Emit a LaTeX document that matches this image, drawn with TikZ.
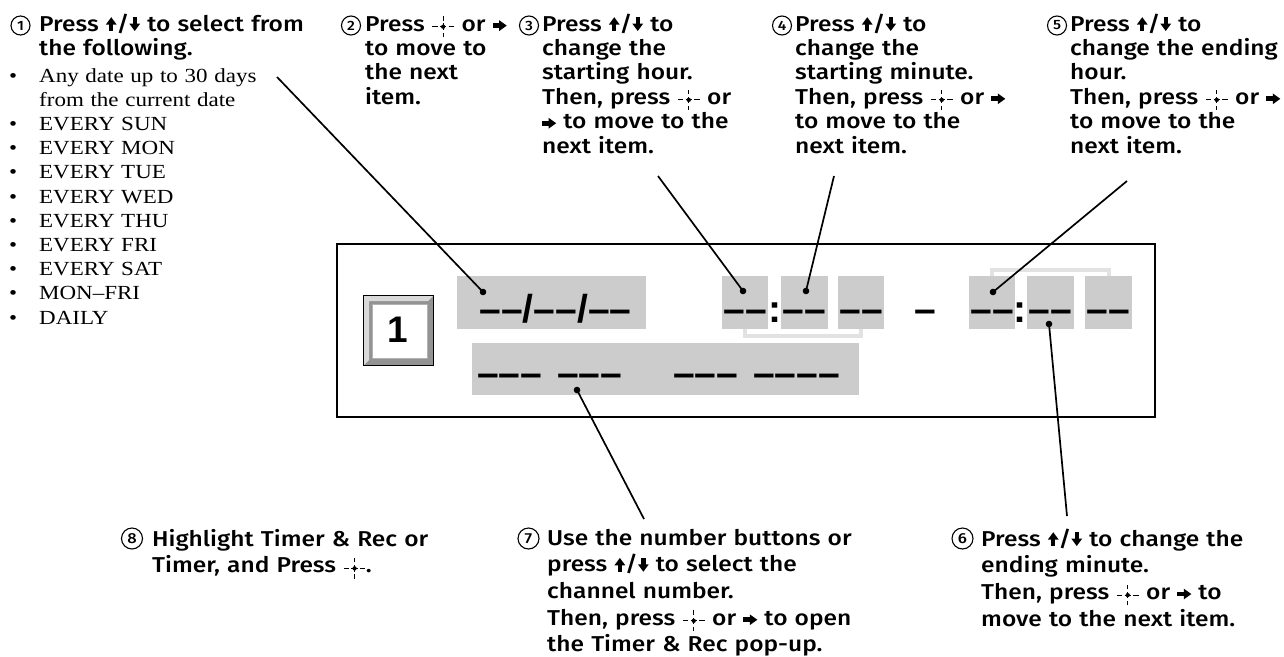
\documentclass[tikz,border=0pt]{standalone}
\usepackage{fontspec}
\setmainfont{Fira Sans}[UprightFont=* Medium, BoldFont=* Bold, FakeStretch=1.14]
\newfontfamily\serifl{Liberation Serif}[FakeStretch=1.15]
\newfontfamily\dispf{Liberation Sans}
\definecolor{fieldgray}{RGB}{204,204,204}
\definecolor{brkgray}{RGB}{226,226,226}
\newcommand\updn{\tikz[baseline=0pt]{\fill (0,0.3em) -- (0.5em,0.3em) -- (0.25em,0.64em) -- cycle; \fill (0.15em,0) rectangle (0.35em,0.31em);}/\tikz[baseline=0pt]{\fill (0,0.34em) -- (0.5em,0.34em) -- (0.25em,0) -- cycle; \fill (0.15em,0.33em) rectangle (0.35em,0.64em);}}
\newcommand\rarr{\tikz[baseline=0pt]{\fill (0.3em,0) -- (0.3em,0.5em) -- (0.65em,0.25em) -- cycle; \fill (0,0.14em) rectangle (0.31em,0.36em);}}
\newcommand\ent{\tikz[baseline=0pt,line width=0.05em]{
  \draw (0,0.2em) -- (0.25em,0.2em) (0.75em,0.2em) -- (1em,0.2em)
        (0.35em,0.2em) -- (0.65em,0.2em)
        (0.5em,-0.28em) -- (0.5em,-0.08em) (0.5em,0.48em) -- (0.5em,0.68em)
        (0.5em,0.05em) -- (0.5em,0.35em);
  \fill (0.5em,0.2em) circle (0.1em);}}
\newcommand\bul{\leavevmode\llap{\makebox[30pt][l]{\textbullet}}}
\begin{document}
\begin{tikzpicture}[x=1pt,y=-1pt,
  toplab/.style={anchor=base west, inner sep=0pt, text width=270pt, align=left, font=\fontsize{21.5}{24.4}\selectfont},
  botlab/.style={anchor=base west, inner sep=0pt, text width=330pt, align=left, font=\fontsize{21.5}{26.7}\selectfont},
  listlab/.style={anchor=base west, inner sep=0pt, text width=260pt, align=left, font=\serifl\fontsize{20}{24.2}\selectfont},
  cnum/.style={circle, draw, line width=1.1pt, inner sep=0pt, minimum size=19pt, font=\fontsize{13.5}{13.5}\selectfont},
  cnumb/.style={cnum, minimum size=21pt, font=\fontsize{14.5}{14.5}\selectfont},
  frame/.style={draw, line width=2pt, inner sep=0pt, minimum width=818pt, minimum height=173pt},
  field/.style={fill=fieldgray, inner sep=0pt, minimum height=53pt},
  disp/.style={inner sep=0pt, anchor=base, font=\dispf\bfseries\fontsize{39}{39}\selectfont},
  dispw/.style={disp, anchor=base west},
  dot/.style={circle, fill, inner sep=0pt, minimum size=6.6pt},
  leader/.style={line width=1.7pt},
  brk/.style={draw=brkgray, line width=4pt}]
\useasboundingbox (0,0) rectangle (1284,656);

% main frame
\node[frame] (box) at (746,330.5) {};

% button
\fill[black] (363,295) rectangle (434,366);
\fill[gray!85] (364.2,296.2) rectangle (432.8,364.8);
\fill[gray!30] (364.2,296.2) -- (432.8,296.2) -- (428,301) -- (369,301) -- (369,360) -- (364.2,364.8) -- cycle;
\fill[white] (372,304) rectangle (427,358);
\draw[gray!60, line width=1pt] (372,304) rectangle (427,358);
\node[inner sep=0pt, font=\dispf\bfseries\fontsize{37}{37}\selectfont] (one) at (398,330) {1};

% fields
\node[field, minimum width=189pt] (date) at (551.5,302.5) {};
\node[field, minimum width=46.5pt] (f1) at (745,302.5) {};
\node[field, minimum width=46.5pt] (f2) at (804.5,302.5) {};
\node[field, minimum width=46.5pt] (f3) at (861,302.5) {};
\node[field, minimum width=46.5pt] (f4) at (992,302.5) {};
\node[field, minimum width=46.5pt] (f5) at (1050.5,302.5) {};
\node[field, minimum width=46.5pt] (f6) at (1108.5,302.5) {};
\node[field, minimum width=387pt, minimum height=52pt] (chan) at (665.5,369) {};

% brackets
\draw[brk] (f1.south) -- ++(0,7) -| (f3.south);
\draw[brk] (f4.north) -- ++(0,-6) -| (f6.north);

% display texts
\node[disp] (dtxt) at (555.5,322) {––/––/––};
\node[disp] (t1) at (745.5,322) {––};
\node[disp] (col1) at (775,322) {:};
\node[disp] (t2) at (804.5,322) {––};
\node[disp] (t3) at (861,322) {––};
\node[disp] (dash) at (925,322) {–};
\node[disp] (t4) at (992,322) {––};
\node[disp] (col2) at (1019.5,322) {:};
\node[disp] (t5) at (1050.5,322) {––};
\node[disp] (t6) at (1108.5,322) {––};
\node[dispw] (c1) at (477,386) {–––};
\node[dispw] (c2) at (557,386) {–––};
\node[dispw] (c3) at (673,386) {–––};
\node[dispw] (c4) at (753,386) {––––};

% dots
\node[dot] (d1) at (483,292) {};
\node[dot] (d3) at (743,291) {};
\node[dot] (d4) at (806,291) {};
\node[dot] (d5) at (993,292) {};
\node[dot] (d6) at (1049,324) {};
\node[dot] (d7) at (577,390) {};

% leader ends
\coordinate (e1) at (277,77);
\coordinate (e3) at (658,176);
\coordinate (e4) at (834,176);
\coordinate (e5) at (1127,181);
\coordinate (e6) at (1067,516);
\coordinate (e7) at (644,519);
\draw[leader] (e1) -- (d1.center);
\draw[leader] (e3) -- (d3.center);
\draw[leader] (e4) -- (d4.center);
\draw[leader] (e5) -- (d5.center);
\draw[leader] (e6) -- (d6.center);
\draw[leader] (e7) -- (d7.center);

% circled numbers
\node[cnum] (n1) at (20.5,25.5) {1};
\node[cnum] (n2) at (351,25.5) {2};
\node[cnum] (n3) at (529,25.5) {3};
\node[cnum] (n4) at (782,25.5) {4};
\node[cnum] (n5) at (1057,25.5) {5};
\node[cnumb] (n6) at (962.5,538.5) {6};
\node[cnumb] (n7) at (528.5,538.5) {7};
\node[cnumb] (n8) at (132,538.5) {8};

% labels
\node[toplab] (l1) at (39,31) {Press \updn{} to select from\\the following.};
\node[listlab] (list) at (39,82) {\bul Any date up to 30 days\\from the current date\\\bul EVERY SUN\\\bul EVERY MON\\\bul EVERY TUE\\\bul EVERY WED\\\bul EVERY THU\\\bul EVERY FRI\\\bul EVERY SAT\\\bul MON–FRI\\\bul DAILY};
\node[toplab] (l2) at (365,31) {Press \ent{} or \rarr\\to move to\\the next\\item.};
\node[toplab] (l3) at (542,31) {Press \updn{} to\\change the\\starting hour.\\Then, press \ent{} or\\\rarr{} to move to the\\next item.};
\node[toplab] (l4) at (795,31) {Press \updn{} to\\change the\\starting minute.\\Then, press \ent{} or \rarr\\to move to the\\next item.};
\node[toplab] (l5) at (1070,31) {Press \updn{} to\\change the ending\\hour.\\Then, press \ent{} or \rarr\\to move to the\\next item.};
\node[botlab] (l6) at (981,546) {Press \updn{} to change the\\ending minute.\\Then, press \ent{} or \rarr{} to\\move to the next item.};
\node[botlab] (l7) at (547,545) {Use the number buttons or\\press \updn{} to select the\\channel number.\\Then, press \ent{} or \rarr{} to open\\the Timer \& Rec pop-up.};
\node[botlab] (l8) at (152,546) {Highlight Timer \& Rec or\\Timer, and Press \ent.};
\end{tikzpicture}
\end{document}
